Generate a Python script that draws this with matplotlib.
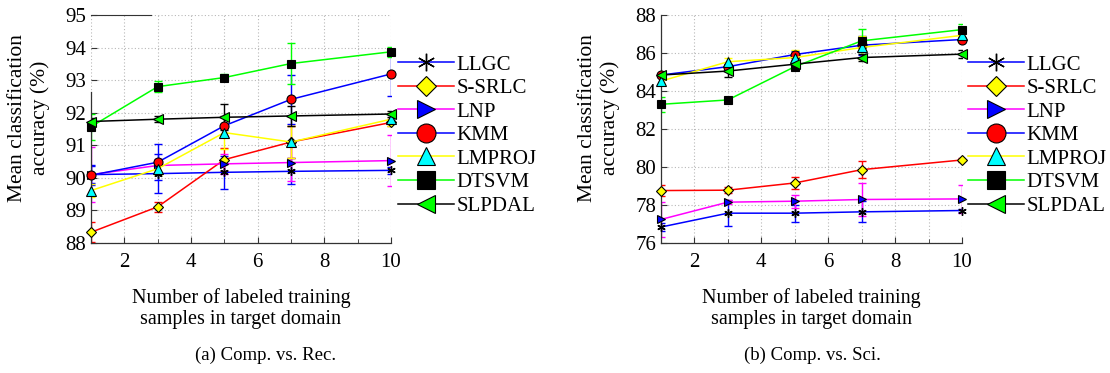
import matplotlib
matplotlib.use("Agg")
import matplotlib.pyplot as plt
from matplotlib.ticker import MultipleLocator

plt.rcParams['font.family'] = ['Liberation Serif', 'DejaVu Serif']
plt.rcParams['mathtext.fontset'] = 'stix'

x = [1, 3, 5, 7, 10]
methods = ['LLGC', 'S-SRLC', 'LNP', 'KMM', 'LMPROJ', 'DTSVM', 'SLPDAL']

# (a) Comp. vs. Rec.
rec_llgc = [90.10, 90.13, 90.17, 90.20, 90.23]
rec_ssrlc = [88.33, 89.11, 90.56, 91.10, 91.70]
rec_lnp = [90.10, 90.38, 90.43, 90.47, 90.53]
rec_kmm = [90.08, 90.48, 91.60, 92.41, 93.19]
rec_lmproj = [89.61, 90.28, 91.39, 91.10, 91.80]
rec_dtsvm = [91.57, 92.80, 93.08, 93.51, 93.87]
rec_slpdal = [91.73, 91.80, 91.86, 91.90, 91.96]
rec_err_llgc = [0.25, 0.60, 0.50, 0.40, 0.10]
rec_err_ssrlc = [0.30, 0.15, 0.35, 0.50, 0.10]
rec_err_lnp = [0.85, 0.20, 0.30, 0.57, 0.78]
rec_err_kmm = [0.30, 0.55, 0.30, 0.75, 0.69]
rec_err_lmproj = [0.20, 0.20, 0.50, 0.50, 0.20]
rec_err_dtsvm = [0.40, 0.17, 0.10, 0.64, 0.15]
rec_err_slpdal = [0.10, 0.10, 0.40, 0.30, 0.10]

# (b) Comp. vs. Sci.
sci_llgc = [76.84, 77.57, 77.57, 77.64, 77.71]
sci_ssrlc = [78.76, 78.78, 79.16, 79.86, 80.37]
sci_lnp = [77.24, 78.15, 78.20, 78.29, 78.32]
sci_kmm = [84.84, 85.28, 85.92, 86.41, 86.71]
sci_lmproj = [84.52, 85.54, 85.76, 86.29, 86.93]
sci_dtsvm = [83.30, 83.53, 85.28, 86.64, 87.23]
sci_slpdal = [84.84, 85.05, 85.41, 85.76, 85.94]
sci_err_llgc = [0.20, 0.70, 0.45, 0.55, 0.10]
sci_err_ssrlc = [0.30, 0.15, 0.30, 0.45, 0.10]
sci_err_lnp = [0.90, 0.10, 0.35, 0.85, 0.75]
sci_err_kmm = [0.10, 0.15, 0.20, 0.50, 0.10]
sci_err_lmproj = [0.10, 0.20, 0.40, 0.60, 0.20]
sci_err_dtsvm = [0.40, 0.10, 0.20, 0.60, 0.30]
sci_err_slpdal = [0.10, 0.30, 0.20, 0.20, 0.20]

rec_vals = [rec_llgc, rec_ssrlc, rec_lnp, rec_kmm, rec_lmproj, rec_dtsvm, rec_slpdal]
rec_errs = [rec_err_llgc, rec_err_ssrlc, rec_err_lnp, rec_err_kmm, rec_err_lmproj, rec_err_dtsvm, rec_err_slpdal]
sci_vals = [sci_llgc, sci_ssrlc, sci_lnp, sci_kmm, sci_lmproj, sci_dtsvm, sci_slpdal]
sci_errs = [sci_err_llgc, sci_err_ssrlc, sci_err_lnp, sci_err_kmm, sci_err_lmproj, sci_err_dtsvm, sci_err_slpdal]

line_colors = ['#0000ff', '#ff0000', '#ff00ff', '#0000ff', '#ffff00', '#00ff00', '#000000']
markers = [(6, 2, 0), 'D', '>', 'o', '^', 's', '<']
face_colors = ['k', '#ffff00', '#0000ff', '#ff0000', '#00ffff', '#000000', '#00ff00']
msizes = [6, 5, 6, 6.5, 6.5, 6, 6.5]

fig = plt.figure(figsize=(11.10, 3.73), dpi=100)
ax1 = fig.add_axes([91/1110, 130/373, 300/1110, 228/373])
ax2 = fig.add_axes([661/1110, 130/373, 301/1110, 228/373])

FS = 14.5

def draw(ax, vals, errs, ylim, ystep, caption, cap_x, legend_x):
    handles = []
    for v, e, lc, m, fc, ms, name in zip(vals, errs, line_colors, markers, face_colors, msizes, methods):
        ax.errorbar(x, v, yerr=e, fmt='none', ecolor=lc, elinewidth=1.0, capsize=3, capthick=1.0, zorder=2)
        h, = ax.plot(x, v, color=lc, lw=1.1, marker=m, markersize=ms, markerfacecolor=fc,
                     markeredgecolor='k', markeredgewidth=0.8 if m != (6, 2, 0) else 1.0,
                     label=name, zorder=3, clip_on=False)
        handles.append(h)
    ax.set_xlim(1, 10)
    ax.set_ylim(*ylim)
    ax.xaxis.set_major_locator(MultipleLocator(2))
    ax.xaxis.set_minor_locator(MultipleLocator(1))
    ax.yaxis.set_major_locator(MultipleLocator(ystep))
    ax.grid(True, which='major', axis='y', color='#b8b8b8', linestyle=(0, (1, 2)), lw=0.8)
    ax.grid(True, which='both', axis='x', color='#b8b8b8', linestyle=(0, (1, 2)), lw=0.8)
    ax.set_axisbelow(True)
    ax.tick_params(axis='both', which='both', direction='in', labelsize=FS + 0.5, color='#333333')
    ax.tick_params(axis='both', which='major', length=4)
    ax.tick_params(axis='x', which='minor', length=3)
    ax.tick_params(axis='x', pad=7)
    ax.spines['right'].set_visible(False)
    ax.spines['top'].set_visible(False)
    for s in ('left', 'bottom'):
        ax.spines[s].set_color('#333333')
        ax.spines[s].set_linewidth(0.9)
    ax.set_xlabel('Number of labeled training\nsamples in target domain', fontsize=FS, linespacing=1.15, labelpad=12)
    ax.set_ylabel('Mean classification\naccuracy (%)', fontsize=FS + 1, linespacing=1.25)
    ax.yaxis.set_label_coords(-0.135, 0.55)
    fig.text(cap_x / 1110, 1 - 355 / 373, caption, fontsize=FS - 1, ha='center', va='center')
    leg = ax.legend(handles=handles, loc='upper left', bbox_to_anchor=(legend_x / 1110, 1 - 55 / 373),
                    bbox_transform=fig.transFigure, frameon=False, fontsize=FS + 0.5,
                    handlelength=2.7, handletextpad=0.1, labelspacing=0.19, borderpad=0,
                    borderaxespad=0, markerscale=2.1)
    return leg

draw(ax1, rec_vals, rec_errs, (88, 95), 1, '(a) Comp. vs. Rec.', 266, 398)
draw(ax2, sci_vals, sci_errs, (76, 88), 2, '(b) Comp. vs. Sci.', 812, 968)

# partial frame artefacts of the reference (a)
ax1.spines['left'].set_bounds(88, 92.64)
ax1.spines['top'].set_visible(True)
ax1.spines['top'].set_color('#333333')
ax1.spines['top'].set_bounds(1, 2.8)

fig.savefig('out.png', dpi=100)
